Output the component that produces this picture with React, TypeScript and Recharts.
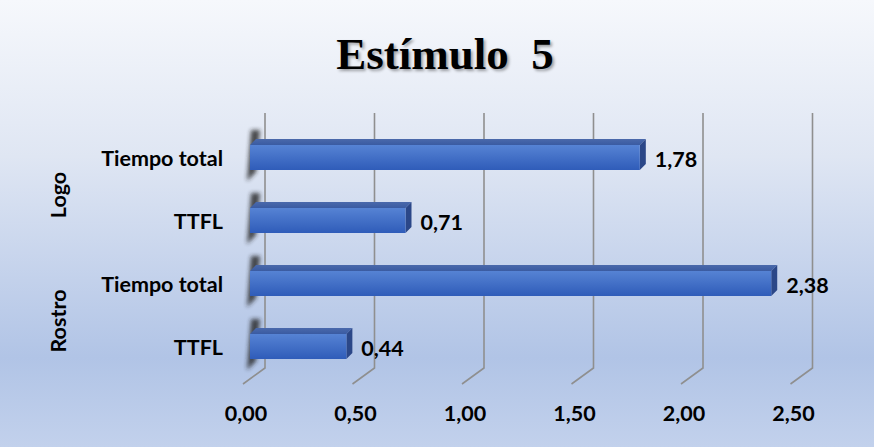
import React from 'react';
import { BarChart, Bar, XAxis, YAxis, CartesianGrid, LabelList } from 'recharts';

const groups = ['Logo', 'Logo', 'Rostro', 'Rostro'];
const labels = ['Tiempo total', 'TTFL', 'Tiempo total', 'TTFL'];
const values = [1.78, 0.71, 2.38, 0.44];
const xTicks = [0, 0.5, 1, 1.5, 2, 2.5];
const title = 'Estímulo  5';

const data = labels.map((l, i) => ({ key: `${groups[i]}-${l}-${i}`, label: l, group: groups[i], value: values[i] }));

const FONT = 'Lato, "Open Sans", sans-serif';
const FS = 21.5;
const fmt = (v: number) => v.toFixed(2).replace('.', ',');

const D = 6;

const Bar3D = (props: any) => {
  const { x, y, width, height } = props;
  if (width == null || height == null) return null;
  const w = width, h = height;
  return (
    <g>
      <polygon
        points={`${x - 3},${y + h + 11} ${x + 6},${y + h + 2} ${x + 10},${y - 15} ${x + 1},${y - 15}`}
        fill="#222"
        opacity={0.8}
        filter="url(#blurShadow)"
      />
      <polygon points={`${x},${y} ${x + w},${y} ${x + w + D},${y - D} ${x + D},${y - D}`} fill="url(#topFace)" />
      <polygon points={`${x + w},${y} ${x + w + D},${y - D} ${x + w + D},${y + h - D} ${x + w},${y + h}`} fill="#2b4788" />
      <rect x={x} y={y} width={w} height={h} fill="url(#frontFace)" />
    </g>
  );
};

const GridLine = (p: any) => {
  const x = p.x1;
  const top = p.y1 - 13;
  const bb = p.y2 - 10;
  return (
    <path
      key={p.key}
      d={`M${x + 15},${top} L${x + 15},${bb} L${x - 7},${bb + 16}`}
      stroke="#8f8f8f"
      strokeWidth={1.6}
      fill="none"
    />
  );
};

const CatTick = (p: any) => (
  <text x={p.x} y={p.y} textAnchor="end" dominantBaseline="central" fontFamily={FONT} fontWeight={700} fontSize={FS} fill="#000">
    {labels[p.index]}
  </text>
);

const GroupTick = (p: any) => (
  <text
    x={p.x}
    y={p.y + 6}
    textAnchor="middle"
    dominantBaseline="central"
    transform={`rotate(-90, ${p.x}, ${p.y + 6})`}
    fontFamily={FONT}
    fontWeight={700}
    fontSize={FS}
    fill="#000"
  >
    {p.payload.value}
  </text>
);

const XTick = (p: any) => (
  <text x={p.x - 4} y={p.y} textAnchor="middle" dominantBaseline="central" fontFamily={FONT} fontWeight={700} fontSize={FS} fill="#000">
    {fmt(p.payload.value)}
  </text>
);

const ValueLabel = (p: any) => {
  const { x, y, width, height, value } = p;
  return (
    <text x={x + width + 15} y={y + height / 2 + 1} dominantBaseline="central" fontFamily={FONT} fontWeight={700} fontSize={FS} fill="#000">
      {fmt(Number(value))}
    </text>
  );
};

export default function App() {
  return (
    <div
      style={{
        position: 'absolute',
        left: 0,
        top: 0,
        width: 874,
        height: 447,
        background: 'linear-gradient(to bottom, #f6f8fc 0%, #dfe6f3 35%, #b1c4e6 80%, #c2d1ec 100%)',
      }}
    >
      <div
        style={{
          position: 'absolute',
          left: 0,
          top: 28,
          width: 890,
          textAlign: 'center',
          fontFamily: '"Liberation Serif", "Times New Roman", serif',
          fontWeight: 700,
          fontSize: 45,
          whiteSpace: 'pre',
          color: '#000',
          textShadow: '2px 2px 3px rgba(0,0,0,0.35)',
        }}
      >
        {title}
      </div>
      <BarChart
        width={874}
        height={447}
        data={data}
        layout="vertical"
        margin={{ top: 126, right: 76.5, bottom: 19, left: 0 }}
        style={{ position: 'absolute', left: 0, top: 0 }}
      >
        <defs>
          <linearGradient id="frontFace" x1="0" y1="0" x2="0" y2="1">
            <stop offset="0%" stopColor="#5683d4" />
            <stop offset="100%" stopColor="#2f5cb9" />
          </linearGradient>
          <linearGradient id="topFace" x1="0" y1="0" x2="0" y2="1">
            <stop offset="0%" stopColor="#4a69ab" />
            <stop offset="100%" stopColor="#3a5ba2" />
          </linearGradient>
          <filter id="blurShadow" x="-100%" y="-50%" width="300%" height="200%">
            <feGaussianBlur stdDeviation="2" />
          </filter>
        </defs>
        <CartesianGrid yAxisId="cat" horizontal={false} vertical={GridLine as any} />
        <XAxis
          type="number"
          domain={[0, 2.5]}
          ticks={xTicks}
          axisLine={false}
          tickLine={false}
          tickSize={0}
          tickMargin={35}
          height={50}
          tick={XTick as any}
          interval={0}
        />
        <YAxis
          yAxisId="cat"
          type="category"
          dataKey="key"
          width={170}
          axisLine={false}
          tickLine={false}
          tickSize={0}
          tickMargin={27}
          tick={CatTick as any}
          interval={0}
        />
        <YAxis
          yAxisId="group"
          type="category"
          dataKey="group"
          allowDuplicatedCategory={false}
          width={80}
          axisLine={false}
          tickLine={false}
          tickSize={0}
          tickMargin={22}
          tick={GroupTick as any}
          interval={0}
        />
        <Bar yAxisId="cat" dataKey="value" barSize={25} shape={Bar3D as any} isAnimationActive={false}>
          <LabelList dataKey="value" content={ValueLabel as any} />
        </Bar>
      </BarChart>
    </div>
  );
}
